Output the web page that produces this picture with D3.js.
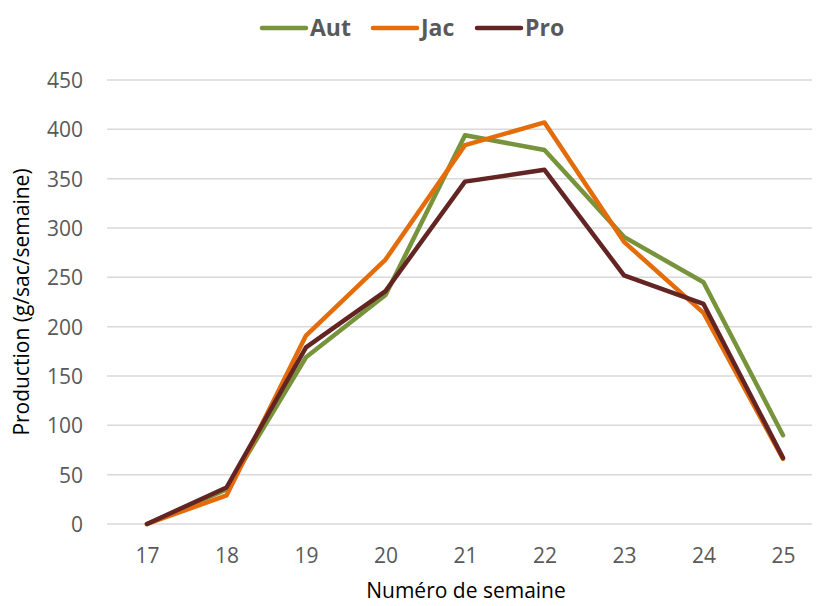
<!DOCTYPE html>
<meta charset="utf-8">
<script src="https://d3js.org/d3.v7.min.js"></script>
<style>
  body { margin: 0; background: #fff; }
  text { font-family: "Open Sans", sans-serif; fill: #595959; }
</style>
<div id="my_dataviz"></div>
<script>
  // data
  var weeks = [17, 18, 19, 20, 21, 22, 23, 24, 25];
  var aut = [0, 35, 169, 232, 394, 379, 291, 245, 90];
  var jac = [0, 29, 191, 268, 384, 407, 286, 214, 66];
  var pro = [0, 37, 179, 236, 347, 359, 252, 223, 67];
  var yTicks = [0, 50, 100, 150, 200, 250, 300, 350, 400, 450];

  var series = [
    {name: "Aut", values: aut, color: "#77933C"},
    {name: "Jac", values: jac, color: "#E46C0A"},
    {name: "Pro", values: pro, color: "#632523"}
  ];

  var W = 816, H = 606;
  var margin = {left: 107, right: 812, top: 80, bottom: 524};

  var svg = d3.select("#my_dataviz")
    .append("svg")
      .attr("width", W)
      .attr("height", H);

  var x = d3.scalePoint()
    .domain(weeks)
    .range([147, 783]);

  var y = d3.scaleLinear()
    .domain([0, 450])
    .range([margin.bottom, margin.top]);

  // gridlines
  svg.append("g")
    .selectAll("line")
    .data(yTicks)
    .enter()
    .append("line")
      .attr("x1", margin.left)
      .attr("x2", margin.right)
      .attr("y1", function(d) { return y(d); })
      .attr("y2", function(d) { return y(d); })
      .attr("stroke", "#d9d9d9")
      .attr("stroke-width", 1.5);

  // y axis labels
  var yAxis = svg.append("g")
    .attr("transform", "translate(" + (margin.left - 24) + ",0)")
    .call(d3.axisLeft(y).tickValues(yTicks).tickSize(0).tickPadding(0));
  yAxis.select(".domain").remove();
  yAxis.selectAll("text")
    .style("font-size", "21px")
    .style("font-family", "'Open Sans', sans-serif")
    .style("fill", "#595959")
    .attr("dy", "0.35em");

  // x axis labels
  var xAxis = svg.append("g")
    .attr("transform", "translate(0," + margin.bottom + ")")
    .call(d3.axisBottom(x).tickSize(0).tickPadding(24));
  xAxis.select(".domain").remove();
  xAxis.selectAll("text")
    .style("font-size", "21px")
    .style("font-family", "'Open Sans', sans-serif")
    .style("fill", "#595959");

  // lines
  var line = d3.line()
    .x(function(d, i) { return x(weeks[i]); })
    .y(function(d) { return y(d); });

  svg.append("g")
    .selectAll("path")
    .data(series)
    .enter()
    .append("path")
      .attr("d", function(d) { return line(d.values); })
      .attr("fill", "none")
      .attr("stroke", function(d) { return d.color; })
      .attr("stroke-width", 4.5)
      .attr("stroke-linejoin", "round")
      .attr("stroke-linecap", "round");

  // legend
  var legendX = [262, 373, 477];
  var legend = svg.append("g")
    .selectAll("g")
    .data(series)
    .enter()
    .append("g")
      .attr("transform", function(d, i) { return "translate(" + legendX[i] + ",28)"; });
  legend.append("line")
    .attr("x1", 0).attr("x2", 44)
    .attr("stroke", function(d) { return d.color; })
    .attr("stroke-width", 4.5)
    .attr("stroke-linecap", "round");
  legend.append("text")
    .attr("x", 48)
    .attr("dy", "0.35em")
    .style("font-size", "23px")
    .style("font-weight", "bold")
    .text(function(d) { return d.name; });

  // axis titles
  svg.append("text")
    .attr("text-anchor", "middle")
    .attr("x", 466)
    .attr("y", 598)
    .style("font-size", "21px")
    .style("fill", "#000")
    .text("Numéro de semaine");

  svg.append("text")
    .attr("text-anchor", "middle")
    .attr("transform", "translate(29,302) rotate(-90)")
    .style("font-size", "21px")
    .style("fill", "#000")
    .text("Production (g/sac/semaine)");
</script>
